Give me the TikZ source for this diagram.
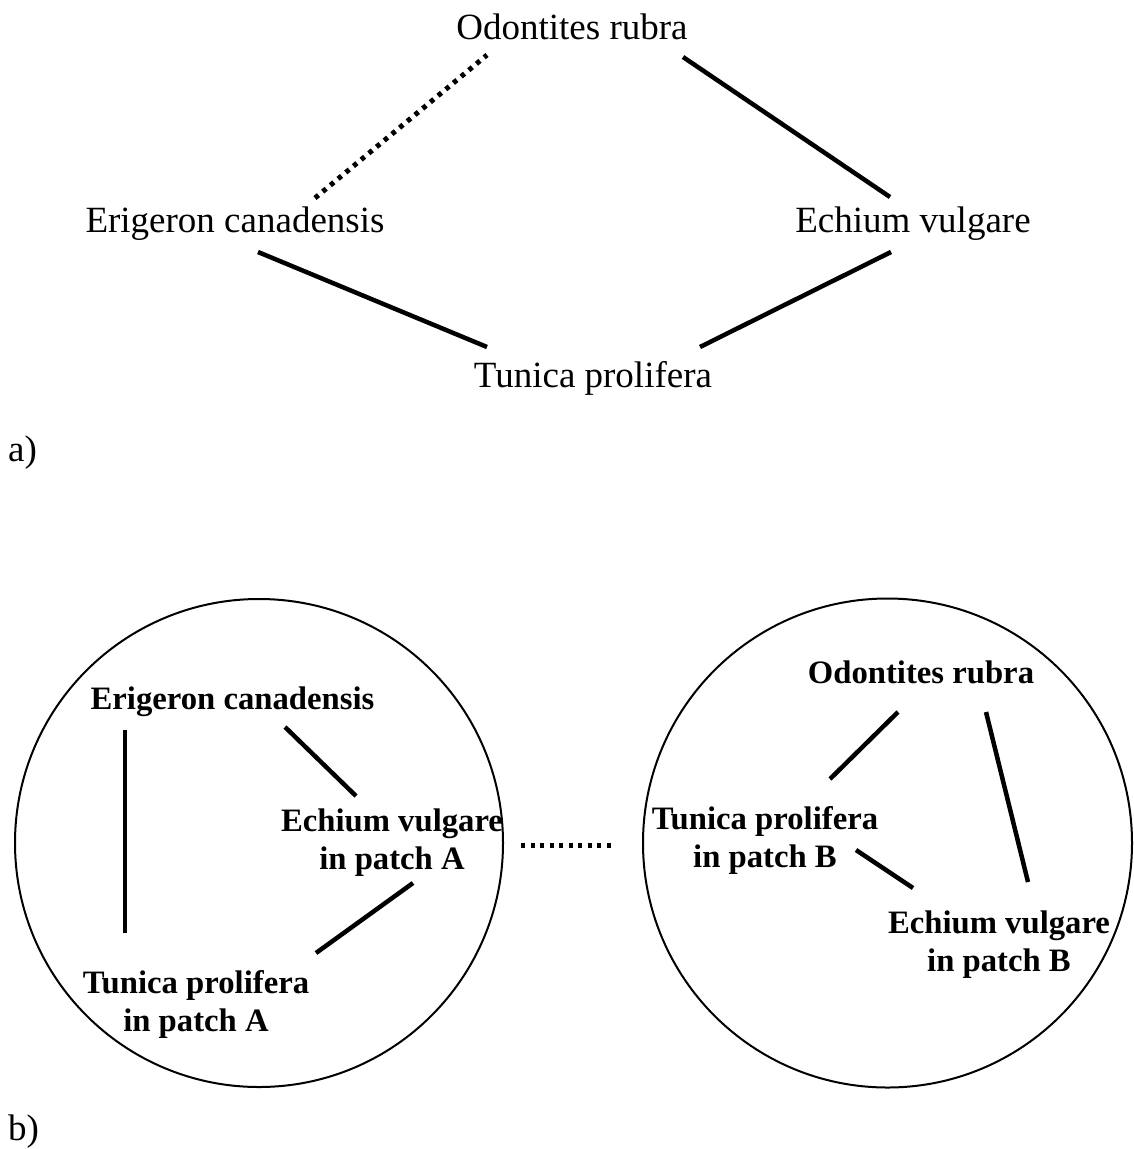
\documentclass[tikz,border=0pt]{standalone}
\usepackage{fontspec}
\setmainfont{Liberation Serif}
\begin{document}
\begin{tikzpicture}[x=1pt,y=-1pt,
  reg/.style={inner sep=0pt,anchor=base,font=\fontsize{37}{44}\selectfont},
  bld/.style={inner sep=0pt,anchor=base,align=center,font=\fontsize{32.7}{38}\selectfont\bfseries},
  link/.style={line width=4.5pt},
  dotlink/.style={line width=5pt,dash pattern=on 4.5pt off 5.5pt},
  patch/.style={circle,draw,line width=2pt,inner sep=0pt}]
\useasboundingbox (0,0) rectangle (1134,1149);
% part a
\node[reg] (or) at (572,39) {Odontites rubra};
\node[reg] (ec) at (235,232) {Erigeron canadensis};
\node[reg] (ev) at (913,232) {Echium vulgare};
\node[reg] (tp) at (593,387) {Tunica prolifera};
\node[reg,anchor=base west] (la) at (8,461) {a)};
\draw[dotlink] ([shift={(80,-34)}]ec.base) -- ([shift={(-85,16)}]or.base);
\draw[link] ([shift={(111,18)}]or.base) -- ([shift={(-23,-35)}]ev.base);
\draw[link] ([shift={(23,20)}]ec.base) -- ([shift={(-106,-40)}]tp.base);
\draw[link] ([shift={(-22,20)}]ev.base) -- ([shift={(107,-40)}]tp.base);
% part b
\node[patch,minimum size=488pt] (pA) at (259,843) {};
\node[patch,minimum size=489pt] (pB) at (887.5,843) {};
\node[bld] (ecA) at (232.5,709) {Erigeron canadensis};
\node[bld] (evA) at (392,869) {Echium vulgare\\in patch A};
\node[bld] (tpA) at (196,1031) {Tunica prolifera\\in patch A};
\node[bld] (orB) at (921,683) {Odontites rubra};
\node[bld] (tpB) at (765,867) {Tunica prolifera\\in patch B};
\node[bld] (evB) at (999,971) {Echium vulgare\\in patch B};
\node[reg,anchor=base west] (lb) at (8,1140) {b)};
\draw[link] ([shift={(-107.5,21)}]ecA.base) -- ([shift={(-71,-98)}]tpA.base);
\draw[link] ([shift={(52.5,18)}]ecA.base) -- ([shift={(-36,-73)}]evA.base);
\draw[link] ([shift={(21,14)}]evA.base) -- ([shift={(120,-78)}]tpA.base);
\draw[link] ([shift={(-23,29)}]orB.base) -- ([shift={(65,-88)}]tpB.base);
\draw[link] ([shift={(65,29)}]orB.base) -- ([shift={(29,-89)}]evB.base);
\draw[link] ([shift={(91,-17)}]tpB.base) -- ([shift={(-86,-83)}]evB.base);
\draw[line width=5pt,dash pattern=on 4pt off 5.5pt] ([shift={(17,2)}]pA.east) -- ([shift={(-28,2)}]pB.west);
\end{tikzpicture}
\end{document}
